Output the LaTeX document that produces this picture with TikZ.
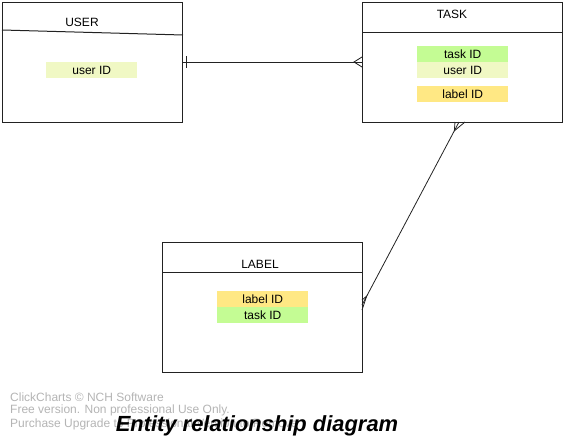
\documentclass[tikz,border=0pt]{standalone}
\usepackage{fontspec}
\setmainfont{Liberation Sans}
\usetikzlibrary{calc}
\definecolor{attrgreen}{HTML}{C4FC94}
\definecolor{attrlight}{HTML}{F0F8C4}
\definecolor{attryellow}{HTML}{FFE884}
\definecolor{wmgray}{HTML}{B4B4B4}
\definecolor{edge}{HTML}{222222}
\begin{document}
\begin{tikzpicture}[x=1pt,y=-1pt,
  entity/.style={draw=edge, line width=1pt, inner sep=0pt, anchor=north west},
  attr/.style={inner sep=0pt, minimum width=91pt, minimum height=16pt, anchor=north west, font=\fontsize{12}{14}\selectfont},
  title/.style={font=\fontsize{12}{14}\selectfont, inner sep=0pt},
  conn/.style={draw=edge, line width=0.8pt},
  wm/.style={text=wmgray, font=\fontsize{12}{13.5}\selectfont, inner sep=0pt, anchor=west}
]
\useasboundingbox (0,0) rectangle (566,442);

% entities
\node[entity, minimum width=180pt, minimum height=120pt] (user) at (2,2) {};
\node[entity, minimum width=200pt, minimum height=120pt] (task) at (362,2) {};
\node[entity, minimum width=200pt, minimum height=130pt] (label) at (162,242) {};

% header lines
\draw[edge, line width=1pt] ($(user.north west)+(0,28)$) -- ($(user.north east)+(0,33)$);
\draw[edge, line width=1pt] ($(task.north west)+(0,30)$) -- ($(task.north east)+(0,30)$);
\draw[edge, line width=1pt] ($(label.north west)+(0,30)$) -- ($(label.north east)+(0,30)$);

% titles
\node[title] (usert) at (82,22) {USER};
\node[title] (taskt) at (452,14) {TASK};
\node[title] (labelt) at (260,264) {LABEL};

% attributes
\node[attr, fill=attrlight] (uid) at (46,62) {user ID};
\node[attr, fill=attrgreen] (tid) at (417,46) {task ID};
\node[attr, fill=attrlight] (tuid) at (417,62) {user ID};
\node[attr, fill=attryellow] (tlid) at (417,86) {label ID};
\node[attr, fill=attryellow] (llid) at (217,291) {label ID};
\node[attr, fill=attrgreen] (ltid) at (217,307) {task ID};

% connector user -- task
\coordinate (ua) at (182,62);
\coordinate (ta) at (362,62);
\draw[conn] (ua) -- (ta);
\draw[conn] ($(ua)+(4,-6)$) -- ($(ua)+(4,6)$);
\draw[conn] ($(ta)+(0,-5)$) -- ($(ta)+(-8,0)$) -- ($(ta)+(0,5)$);

% connector task -- label
\coordinate (tb) at (459,122);
\coordinate (lb) at (362,305);
\draw[conn] (tb) -- (lb);
\coordinate (tp) at ($(tb)!10pt!(lb)$);
\draw[conn] ($(tb)+(-4,0)$) -- (tp) -- ($(tb)+(6,0)$);
\coordinate (lp) at ($(lb)!10pt!(tb)$);
\draw[conn] ($(lb)+(0,-5)$) -- (lp) -- ($(lb)+(0,5)$);

% watermark
\node[wm] (wm1) at (10,397) {ClickCharts © NCH Software};
\node[wm] (wm2) at (10,410.5) {Free version. Non professional Use Only.};
\node[wm] (wm3) at (10,424) {Purchase Upgrade to Professional Version to Remove};

% main title
\node[font=\fontsize{21.9}{24}\selectfont\bfseries\itshape, inner sep=0pt] (main) at (257,426) {Entity relationship diagram};
\end{tikzpicture}
\end{document}
